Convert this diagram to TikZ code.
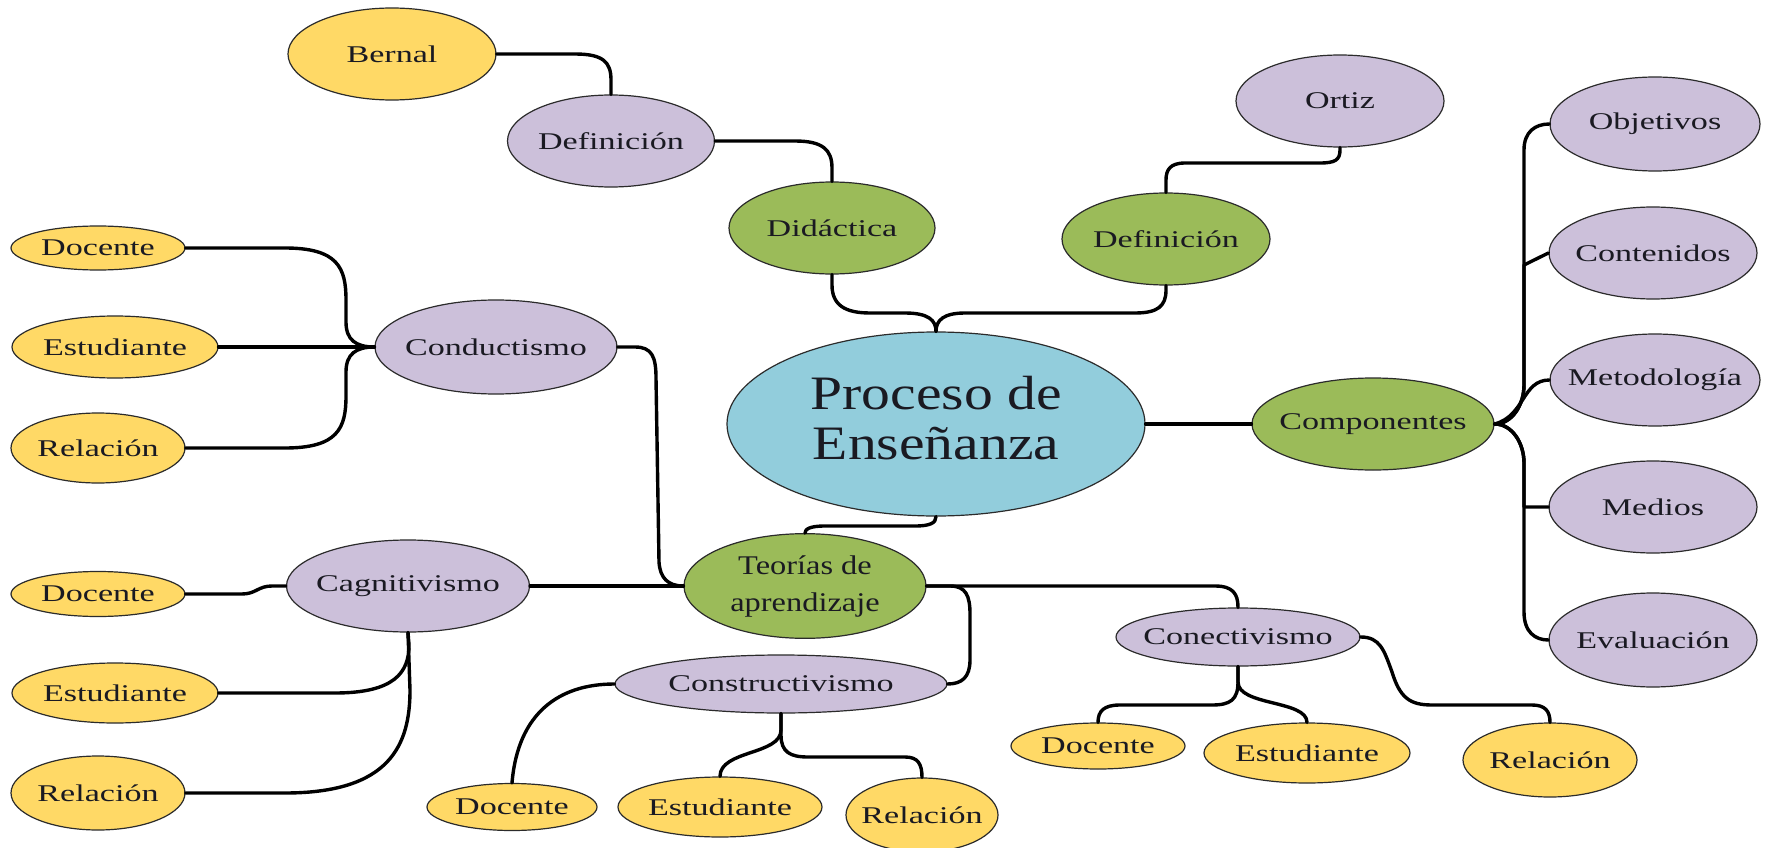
\documentclass[tikz,border=0pt]{standalone}
\usepackage{fontspec}
\setmainfont{Liberation Serif}
\newfontfamily\labfont{Liberation Serif}[FakeStretch=1.42]
\newfontfamily\teofont{Liberation Serif}[FakeStretch=1.2]
\newfontfamily\procfont{Liberation Serif}[FakeStretch=1.2]
\usetikzlibrary{shapes.geometric}
\definecolor{cyel}{HTML}{FFD966}
\definecolor{cpur}{HTML}{CCC0DA}
\definecolor{cgrn}{HTML}{9BBB59}
\definecolor{cblu}{HTML}{92CDDC}
\definecolor{ctxt}{HTML}{1A1A22}
\definecolor{cedge}{HTML}{2B2B2B}
\newcommand{\zb}[1]{\makebox[0pt][c]{#1}}
\newcommand{\twol}[2]{\makebox[0pt][c]{\begin{tabular}{@{}c@{}}#1\\#2\end{tabular}}}
\tikzset{
  bub/.style={ellipse, draw=cedge, line width=1.2pt, inner sep=0pt, text=ctxt,
    font=\labfont\fontsize{24}{26}\selectfont},
  yel/.style={bub, fill=cyel},
  pur/.style={bub, fill=cpur},
  grn/.style={bub, fill=cgrn},
  blu/.style={bub, fill=cblu},
  sz/.style 2 args={minimum width=#1pt, minimum height=#2pt},
  conn/.style={line width=3.4pt, black, line cap=round, line join=round},
}
\begin{document}
\begin{tikzpicture}[x=1pt,y=-1pt]
\fill[white] (0,0) rectangle (1792,848);
\useasboundingbox (0,0) rectangle (1792,848);

% ---- nodes ----
\node[yel, sz={208}{92}] (bernal) at (392,54) {\zb{Bernal}};
\node[pur, sz={207}{92}] (defA) at (611,141) {\zb{Definición}};
\node[grn, sz={206}{92}] (didac) at (832,228) {\zb{Didáctica}};
\node[pur, sz={208}{92}] (ortiz) at (1340,101) {\zb{Ortiz}};
\node[grn, sz={208}{92}] (defB) at (1166,239) {\zb{Definición}};
\node[blu, sz={418}{184}, font=\procfont\fontsize{48}{50}\selectfont] (proc) at (936,424) {\twol{Proceso de}{Enseñanza}};
\node[grn, sz={242}{92}] (comp) at (1373,424) {\zb{Componentes}};
\node[pur, sz={210}{94}] (obj) at (1655,124) {\zb{Objetivos}};
\node[pur, sz={208}{92}] (cont) at (1653,253) {\zb{Contenidos}};
\node[pur, sz={210}{92}] (met) at (1655,380) {\zb{Metodología}};
\node[pur, sz={208}{92}] (med) at (1653,507) {\zb{Medios}};
\node[pur, sz={208}{94}] (eval) at (1653,640) {\zb{Evaluación}};

\node[pur, sz={242}{94}] (conduct) at (496,347) {\zb{Conductismo}};
\node[yel, sz={174}{44}] (docA) at (98,248) {\zb{Docente}};
\node[yel, sz={206}{62}] (estA) at (115,347) {\zb{Estudiante}};
\node[yel, sz={174}{70}] (relA) at (98,448) {\zb{Relación}};

\node[grn, sz={242}{94}, font=\teofont\fontsize{27}{37}\selectfont] (teor) at (805,586) {\twol{Teorías de}{aprendizaje}};

\node[pur, sz={243}{92}] (cogn) at (408,586) {\zb{Cagnitivismo}};
\node[yel, sz={174}{45}] (docB) at (98,594) {\zb{Docente}};
\node[yel, sz={206}{60}] (estB) at (115,693) {\zb{Estudiante}};
\node[yel, sz={174}{74}] (relB) at (98,793) {\zb{Relación}};

\node[pur, sz={332}{58}] (constr) at (781,684) {\zb{Constructivismo}};
\node[yel, sz={170}{47}] (docC) at (512,807) {\zb{Docente}};
\node[yel, sz={204}{60}] (estC) at (720,807) {\zb{Estudiante}};
\node[yel, sz={152}{74}] (relC) at (922,815) {\zb{Relación}};

\node[pur, sz={244}{58}] (conect) at (1238,637) {\zb{Conectivismo}};
\node[yel, sz={174}{46}] (docD) at (1098,746) {\zb{Docente}};
\node[yel, sz={206}{60}] (estD) at (1307,753) {\zb{Estudiante}};
\node[yel, sz={174}{74}] (relD) at (1550,760) {\zb{Relación}};

% ---- connectors ----
\draw[conn] (bernal.east) -- (575,54) .. controls (603,54) and (611,62) .. (611,80) -- (defA.north);
\draw[conn] (defA.east) -- (795,141) .. controls (823,141) and (832,150) .. (832,168) -- (didac.north);
\draw[conn] (didac.south) -- (832,285) .. controls (832,305) and (845,313) .. (870,313) -- (905,313) .. controls (928,313) and (936,320) .. (proc.north);
\draw[conn] (defB.south) -- (1166,290) .. controls (1166,306) and (1158,313) .. (1135,313) -- (965,313) .. controls (944,313) and (936,320) .. (proc.north);
\draw[conn] (ortiz.south) -- (1340,150) .. controls (1340,160) and (1335,163) .. (1320,163) -- (1185,163) .. controls (1170,163) and (1166,170) .. (1166,180) -- (defB.north);

\draw[conn] (proc.east) -- (comp.west);
\draw[conn] (comp.east) .. controls (1512,424) and (1524,405) .. (1524,385) -- (1524,150) .. controls (1524,132) and (1535,124) .. (obj.west);
\draw[conn] (comp.east) .. controls (1512,424) and (1524,405) .. (1524,385) -- (1524,265) -- (cont.west);
\draw[conn] (comp.east) .. controls (1525,416) and (1522,380) .. (met.west);
\draw[conn] (comp.east) .. controls (1512,424) and (1524,443) .. (1524,463) -- (1524,507) -- (med.west);
\draw[conn] (comp.east) .. controls (1512,424) and (1524,443) .. (1524,463) -- (1524,612) .. controls (1524,632) and (1535,640) .. (eval.west);

\draw[conn] (docA.east) -- (285,248) .. controls (338,248) and (346,268) .. (346,300) -- (346,322) .. controls (346,340) and (356,347) .. (conduct.west);
\draw[conn] (estA.east) -- (conduct.west);
\draw[conn] (relA.east) -- (285,448) .. controls (338,448) and (346,428) .. (346,396) -- (346,372) .. controls (346,354) and (356,347) .. (conduct.west);
\draw[conn] (conduct.east) -- (635,347) .. controls (652,347) and (656,357) .. (656,378) -- (659,562) .. controls (660,578) and (668,586) .. (teor.west);

\draw[conn] (cogn.east) -- (teor.west);
\draw[conn] (docB.east) -- (242,594) .. controls (256,594) and (258,586) .. (272,586) -- (cogn.west);
\draw[conn] (estB.east) -- (335,693) .. controls (395,693) and (409,672) .. (409,645) -- (cogn.south);
\draw[conn] (relB.east) -- (285,793) .. controls (390,793) and (410,745) .. (410,690) -- (cogn.south);

\draw[conn] (teor.north) .. controls (805,529) and (810,526) .. (825,526) -- (915,526) .. controls (930,526) and (936,523) .. (proc.south);
\draw[conn] (teor.east) -- (1215,586) .. controls (1233,586) and (1238,594) .. (conect.north);
\draw[conn] (teor.east) -- (950,586) .. controls (966,586) and (970,596) .. (970,614) -- (970,660) .. controls (970,677) and (962,684) .. (constr.east);

\draw[conn] (constr.west) .. controls (560,684) and (518,712) .. (docC.north);
\draw[conn] (constr.south) -- (781,730) .. controls (781,755) and (720,750) .. (estC.north);
\draw[conn] (constr.south) -- (781,735) .. controls (781,752) and (790,757) .. (808,757) -- (905,757) .. controls (918,757) and (922,764) .. (relC.north);

\draw[conn] (conect.south) -- (1238,682) .. controls (1238,700) and (1230,705) .. (1212,705) -- (1120,705) .. controls (1104,705) and (1098,711) .. (docD.north);
\draw[conn] (conect.south) -- (1238,682) .. controls (1238,706) and (1307,700) .. (estD.north);
\draw[conn] (conect.east) .. controls (1380,637) and (1384,650) .. (1392,672) .. controls (1400,698) and (1410,705) .. (1432,705) -- (1532,705) .. controls (1545,705) and (1550,711) .. (relD.north);
\end{tikzpicture}
\end{document}
